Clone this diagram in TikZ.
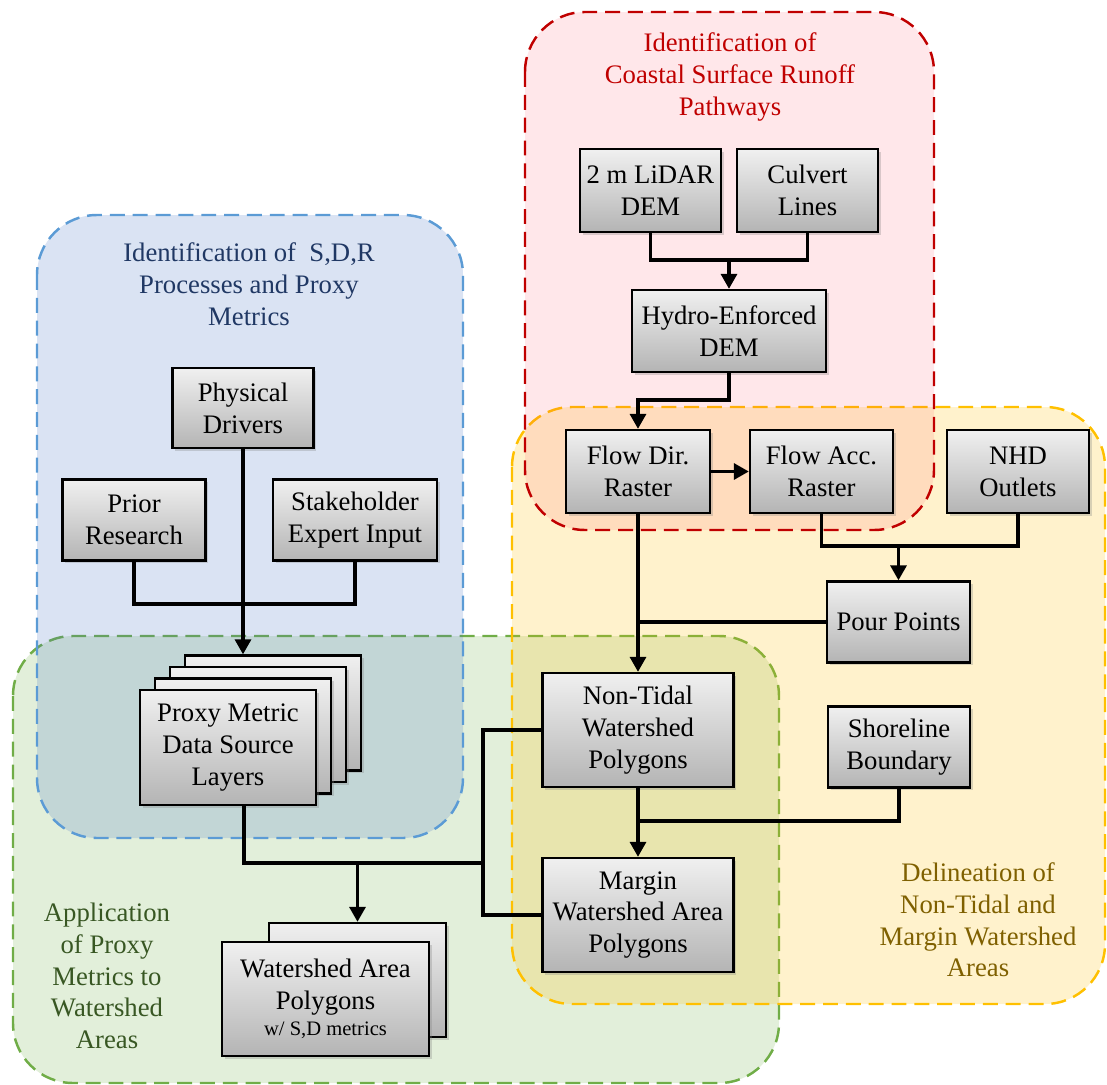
\documentclass[tikz,border=0pt]{standalone}
\usepackage{fontspec}
\setmainfont{Liberation Serif}
\usetikzlibrary{arrows.meta,shadows,calc}

\definecolor{blueBase}{HTML}{4472C4}
\definecolor{blueLine}{HTML}{5B9BD5}
\definecolor{blueText}{HTML}{203864}
\definecolor{redBase}{HTML}{FF3B50}
\definecolor{redLine}{HTML}{C00000}
\definecolor{redText}{HTML}{C00000}
\definecolor{yelBase}{HTML}{FFC000}
\definecolor{yelLine}{HTML}{FFC000}
\definecolor{yelText}{HTML}{7F6000}
\definecolor{grnBase}{HTML}{70AD47}
\definecolor{grnLine}{HTML}{70AD47}
\definecolor{grnText}{HTML}{385723}
\definecolor{boxTop}{HTML}{F0F0F0}
\definecolor{boxBottom}{HTML}{B4B4B4}

\newcommand\mainsize{\fontsize{15.2}{18.1}\selectfont}

\tikzset{
  region/.style={line width=1.4pt, dash pattern=on 8.5pt off 4.5pt,
    rounded corners=1.2cm},
  regionBlue/.style={region, draw=blueLine, fill=blueBase, fill opacity=0.2},
  regionRed/.style={region, draw=redLine, fill=redBase, fill opacity=0.12},
  regionYellow/.style={region, draw=yelLine, fill=yelBase, fill opacity=0.2},
  regionGreen/.style={region, draw=grnLine, fill=grnBase, fill opacity=0.2},
  title/.style={align=center, font=\mainsize, inner sep=0pt},
  box/.style={draw=black, line width=1.3pt, top color=boxTop,
    bottom color=boxBottom, align=center, inner sep=0pt, font=\mainsize,
    drop shadow={shadow xshift=1.6pt, shadow yshift=-1.6pt, opacity=0.3}},
  sz/.style 2 args={minimum width=#1*0.02cm, minimum height=#2*0.02cm},
  link/.style={line width=2pt, draw=black},
  arrow/.style={link, -{Triangle[length=8.5pt,width=9pt]}},
}

\begin{document}
\begin{tikzpicture}[x=0.02cm, y=-0.02cm]
\useasboundingbox (0,0) rectangle (1107,1085);

% ---- process regions ----
\draw[regionGreen]  (13,636) rectangle (779,1083);
\draw[regionYellow] (512,407) rectangle (1105,1004);
\draw[regionBlue]   (37,215) rectangle (463,838);
\draw[regionRed]    (525,12) rectangle (934,530);

\node[title, text=blueText] (tBlue) at (249,284)
  {Identification of \ S,D,R\\Processes and Proxy\\Metrics};
\node[title, text=redText] (tRed) at (730,77)
  {Identification of\\Coastal Surface Runoff\\Pathways};
\node[title, text=grnText] (tGreen) at (107,976)
  {Application\\of Proxy\\Metrics to\\Watershed\\Areas};
\node[title, text=yelText] (tYellow) at (978,920)
  {Delineation of\\Non-Tidal and\\Margin Watershed\\Areas};

% ---- S,D,R processes ----
\node[box, sz={141}{80}] (phys) at (243,408) {Physical\\Drivers};
\node[box, sz={143}{81}] (prior) at (134,520) {Prior\\Research};
\node[box, sz={164}{81}] (stake) at (355,520) {Stakeholder\\Expert Input};

% stacked data layers, back to front
\node[box, sz={176}{115}] (proxy3) at (273,713) {};
\node[box, sz={176}{115}] (proxy2) at (258,724.5) {};
\node[box, sz={176}{115}] (proxy1) at (243,736) {};
\node[box, sz={176}{115}] (proxy) at (228,747.5) {Proxy Metric\\Data Source\\Layers};

% watershed polygons with metrics
\node[box, sz={177}{114}] (wsBack) at (357.5,980) {};
\node[box, sz={207}{114}] (ws) at (325.5,999)
  {Watershed Area\\Polygons\\[-3pt]{\fontsize{11.7}{14}\selectfont w/ S,D metrics}};

% ---- runoff pathways ----
\node[box, sz={141}{83}] (lidar) at (650.5,190.5) {2 m LiDAR\\DEM};
\node[box, sz={141}{83}] (culvert) at (807.5,190.5) {Culvert\\Lines};
\node[box, sz={194}{82}] (hydro) at (729,331) {Hydro-Enforced\\DEM};
\node[box, sz={144}{83}] (fdir) at (638,471.5) {Flow Dir.\\Raster};
\node[box, sz={143}{83}] (facc) at (821.5,471.5) {Flow Acc.\\Raster};
\node[box, sz={142}{83}] (nhd) at (1018,471.5) {NHD\\Outlets};

% ---- watershed delineation ----
\node[box, sz={143}{81}] (pour) at (898.5,622) {Pour Points};
\node[box, sz={191}{114}] (nontidal) at (638,730) {Non-Tidal\\Watershed\\Polygons};
\node[box, sz={142}{81}] (shore) at (899,747) {Shoreline\\Boundary};
\node[box, sz={191}{114}] (margin) at (638,915) {Margin\\Watershed Area\\Polygons};

% ---- connectors ----
\coordinate (jDem) at (729,260);
\draw[link] (lidar.south) |- (jDem);
\draw[link] (culvert.south) |- (jDem);
\draw[arrow] (jDem) -- (hydro.north);

\coordinate (jHydro) at (729,400);
\draw[arrow] (hydro.south) -- (jHydro) -| (fdir.north);
\draw[arrow] (fdir.east) -- (facc.west);

\coordinate (jPour) at (898.5,546);
\draw[link] (facc.south) |- (jPour);
\draw[link] (nhd.south) |- (jPour);
\draw[arrow] (jPour) -- (pour.north);

\draw[arrow] (fdir.south) -- (nontidal.north);
\draw[link] (pour.west) -- (fdir.south |- pour.west);

\coordinate (jShore) at (638,821);
\draw[arrow] (nontidal.south) -- (margin.north);
\draw[link] (shore.south) |- (jShore);

\coordinate (jLeft) at (483,863);
\draw[link] (nontidal.west) -| (jLeft) |- (margin.west);

\coordinate (jSdr) at (243,604);
\draw[link] (prior.south) |- (jSdr);
\draw[link] (stake.south) |- (jSdr);
\draw[arrow] (phys.south) -- (phys.south |- proxy3.north);

\coordinate (jProxy) at (244,805);
\coordinate (jWs) at (357.5,863);
\draw[link] (jProxy) |- (jLeft);
\draw[arrow] (jWs) -- (wsBack.north);
\end{tikzpicture}
\end{document}
